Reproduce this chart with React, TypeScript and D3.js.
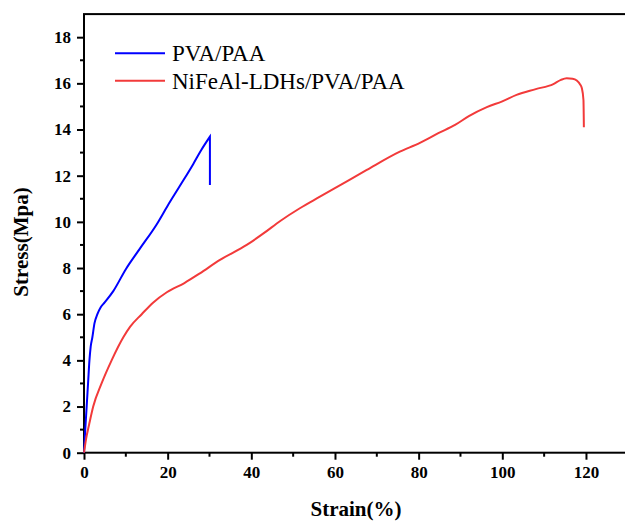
import React, { useEffect, useRef } from 'react';
import * as d3 from 'd3';

// PVA/PAA curve (strain %, stress MPa), rising part then the break
const pvaStrain = [0, 0.3, 0.64, 1.0, 1.3, 1.6, 2.0, 2.5, 3.2, 4.0, 4.9, 7.0, 10.0, 13.4, 17.4, 20.0, 22.9, 26.1, 28.0, 30.1, 30.1];
const pvaStress = [0, 1.0, 2.0, 3.1, 4.0, 4.6, 5.0, 5.6, 6.0, 6.3, 6.5, 7.0, 7.95, 8.85, 9.9, 10.7, 11.55, 12.5, 13.1, 13.69, 11.6];

// NiFeAl-LDHs/PVA/PAA curve
const ldhStrain = [0, 0.5, 1.2, 2.2, 4.2, 6.6, 9.4, 11, 13.8, 16.5, 19.8, 24, 27.7, 32.5, 38.9, 42.9, 47, 51.6, 56.4, 62, 67.6, 75.5, 80.3, 84.7, 88.7, 92, 96.3, 100, 103.4, 108, 112.2, 114, 115.4, 116.8, 117.8, 118.6, 119, 119.4, 119.5];
const ldhStress = [0, 0.6, 1.2, 2.0, 3.0, 4.0, 5.0, 5.45, 6.0, 6.5, 6.95, 7.35, 7.77, 8.35, 9.0, 9.5, 10.05, 10.59, 11.09, 11.67, 12.25, 13.04, 13.42, 13.84, 14.2, 14.58, 14.97, 15.22, 15.5, 15.75, 15.97, 16.15, 16.22, 16.2, 16.12, 15.95, 15.8, 15.28, 14.1];

const seriesNames = ['PVA/PAA', 'NiFeAl-LDHs/PVA/PAA'];
const seriesColors = ['#0000ff', '#f23a3a'];

const xTicks = [0, 20, 40, 60, 80, 100, 120];
const yTicks = [0, 2, 4, 6, 8, 10, 12, 14, 16, 18];

const W = 625;
const H = 522;
const FONT = '"Liberation Serif", "Times New Roman", serif';

const App = () => {
  const ref = useRef<SVGSVGElement>(null);

  useEffect(() => {
    const svg = d3.select(ref.current);
    svg.selectAll('*').remove();

    const x = d3.scaleLinear().domain([0, 130]).range([84, 627.8]);
    const y = d3.scaleLinear().domain([0, 19]).range([452.7, 14.1]);

    // frame
    svg.append('rect')
      .attr('x', x(0)).attr('y', y(19))
      .attr('width', x(130) - x(0)).attr('height', y(0) - y(19))
      .attr('fill', 'none').attr('stroke', '#000').attr('stroke-width', 2);

    // minor ticks
    const xMinor = d3.range(10, 130, 20);
    const yMinor = d3.range(1, 19, 2);
    svg.append('g').selectAll('line').data(xMinor).enter().append('line')
      .attr('x1', (d) => x(d)).attr('x2', (d) => x(d))
      .attr('y1', y(0)).attr('y2', y(0) + 4)
      .attr('stroke', '#000').attr('stroke-width', 2);
    svg.append('g').selectAll('line').data(yMinor).enter().append('line')
      .attr('x1', x(0)).attr('x2', x(0) - 4)
      .attr('y1', (d) => y(d)).attr('y2', (d) => y(d))
      .attr('stroke', '#000').attr('stroke-width', 2);

    // x axis
    const gx = svg.append('g')
      .attr('transform', `translate(0,${y(0)})`)
      .call(d3.axisBottom(x).tickValues(xTicks).tickSize(7).tickSizeOuter(0).tickPadding(6))
      .attr('font-family', FONT).attr('font-size', 17).attr('font-weight', 'bold');
    gx.select('.domain').remove();
    gx.selectAll('line').attr('stroke-width', 2);
    gx.selectAll('text').attr('fill', '#000');

    // y axis
    const gy = svg.append('g')
      .attr('transform', `translate(${x(0)},0)`)
      .call(d3.axisLeft(y).tickValues(yTicks).tickSize(7).tickSizeOuter(0).tickPadding(6))
      .attr('font-family', FONT).attr('font-size', 17).attr('font-weight', 'bold');
    gy.select('.domain').remove();
    gy.selectAll('line').attr('stroke-width', 2);
    gy.selectAll('text').attr('fill', '#000');

    // curves
    const smooth = d3.line<[number, number]>()
      .x((d) => x(d[0]))
      .y((d) => y(d[1]))
      .curve(d3.curveMonotoneX);

    const pva: [number, number][] = pvaStrain.map((s, i) => [s, pvaStress[i]]);
    const pvaRise = pva.slice(0, -1);
    const pvaBreak = pva[pva.length - 1];
    svg.append('path')
      .attr('d', `${smooth(pvaRise)}L${x(pvaBreak[0])},${y(pvaBreak[1])}`)
      .attr('fill', 'none')
      .attr('stroke', seriesColors[0])
      .attr('stroke-width', 2)
      .attr('stroke-linejoin', 'miter');

    const ldh: [number, number][] = ldhStrain.map((s, i) => [s, ldhStress[i]]);
    svg.append('path')
      .attr('d', smooth(ldh))
      .attr('fill', 'none')
      .attr('stroke', seriesColors[1])
      .attr('stroke-width', 2)
      .attr('stroke-linejoin', 'round');

    // legend
    seriesNames.forEach((name, i) => {
      const ly = 53.3 + i * 27.4;
      svg.append('line')
        .attr('x1', 115).attr('x2', 165)
        .attr('y1', ly).attr('y2', ly)
        .attr('stroke', seriesColors[i]).attr('stroke-width', 2);
      svg.append('text')
        .attr('x', 172).attr('y', ly + 7.8)
        .attr('font-family', FONT).attr('font-size', 23)
        .attr('fill', '#000')
        .text(name);
    });

    // axis titles
    svg.append('text')
      .attr('x', 356).attr('y', 516)
      .attr('text-anchor', 'middle')
      .attr('font-family', FONT).attr('font-weight', 'bold').attr('font-size', 21)
      .text('Strain(%)');
    svg.append('text')
      .attr('transform', `translate(28,242) rotate(-90)`)
      .attr('text-anchor', 'middle')
      .attr('font-family', FONT).attr('font-weight', 'bold').attr('font-size', 21)
      .text('Stress(Mpa)');
  }, []);

  return (
    <svg
      ref={ref}
      width={W}
      height={H}
      style={{ position: 'absolute', left: 0, top: 0, background: '#fff' }}
    />
  );
};

export default App;
